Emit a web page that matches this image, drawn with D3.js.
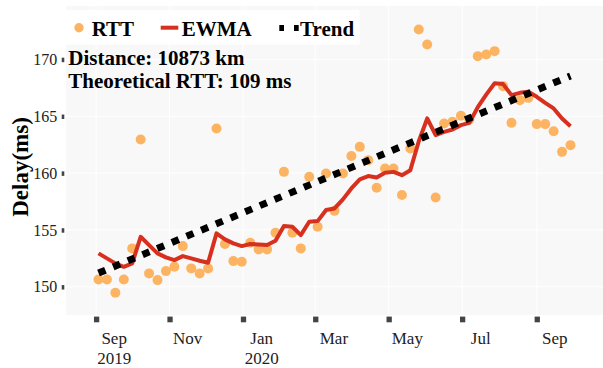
<!DOCTYPE html>
<html>
<head>
<meta charset="utf-8">
<script src="https://cdn.jsdelivr.net/npm/d3@7"></script>
<style>
  html, body { margin: 0; padding: 0; background: #fff; }
  svg { display: block; }
  text { font-family: "Liberation Serif", "Times New Roman", serif; }
</style>
</head>
<body>
<svg id="chart" width="603" height="368"></svg>
<script>
// ---- data ----
const dates = [
  "2019-09-03","2019-09-10","2019-09-17","2019-09-24","2019-10-01","2019-10-08","2019-10-15","2019-10-22","2019-10-29",
  "2019-11-05","2019-11-12","2019-11-19","2019-11-26","2019-12-03","2019-12-10","2019-12-17","2019-12-24","2019-12-31",
  "2020-01-07","2020-01-14","2020-01-21","2020-01-28","2020-02-04","2020-02-11","2020-02-18","2020-02-25",
  "2020-03-03","2020-03-10","2020-03-17","2020-03-24","2020-03-31","2020-04-07","2020-04-14","2020-04-21","2020-04-28",
  "2020-05-05","2020-05-12","2020-05-19","2020-05-26","2020-06-02","2020-06-09","2020-06-16","2020-06-23","2020-06-30",
  "2020-07-07","2020-07-14","2020-07-21","2020-07-28","2020-08-04","2020-08-11","2020-08-18","2020-08-25",
  "2020-09-01","2020-09-08","2020-09-15","2020-09-22","2020-09-29"
];
const rtt = [
  150.65,150.65,149.47,150.65,153.38,162.95,151.18,150.59,151.38,151.76,
  153.58,151.62,151.18,151.62,163.93,153.76,152.26,152.20,153.87,153.29,
  153.29,154.75,160.11,154.75,153.38,159.67,155.28,159.97,156.68,159.97,
  161.50,162.31,161.14,158.71,160.41,160.41,158.07,162.17,172.64,171.32,
  157.86,164.37,164.51,165.04,164.72,170.29,170.44,170.73,167.65,164.42,
  166.42,166.62,164.31,164.31,163.69,161.87,162.46
];
const ewma = [
  152.94,152.50,152.06,151.76,152.06,154.40,153.67,152.94,152.59,152.35,
  152.70,152.50,152.29,152.11,154.70,154.17,153.82,153.58,153.76,153.73,
  153.67,154.05,155.34,155.28,154.55,155.72,155.78,156.75,156.89,157.69,
  158.65,159.45,159.74,159.62,160.03,160.11,159.82,160.26,162.80,164.81,
  163.34,163.63,163.84,164.22,164.42,165.80,166.90,167.90,167.83,166.86,
  167.06,167.15,166.71,166.18,165.69,164.81,164.13
];
const trendDates = ["2019-09-03","2020-09-29"];
const trendValues = [151.21, 168.55];
const yTicks = [150, 155, 160, 165, 170];
const xTickDates = ["2019-09-01","2019-11-01","2020-01-01","2020-03-01","2020-05-01","2020-07-01","2020-09-01"];
const xTickMonths = ["Sep","Nov","Jan","Mar","May","Jul","Sep"];
const xTickYears = ["2019","","2020","","","",""];
const legendLabels = ["RTT","EWMA","Trend"];
const annotationLines = ["Distance: 10873 km","Theoretical RTT: 109 ms"];
const yTitle = "Delay(ms)";

// ---- setup ----
const parse = d3.utcParse("%Y-%m-%d");
const svg = d3.select("#chart");
const P = {left: 66, right: 603, top: 6, bottom: 315};

const x = d3.scaleUtc()
  .domain([parse("2019-08-07"), parse("2020-10-26")])
  .range([P.left, P.right]);
const y = d3.scaleLinear()
  .domain([147.52, 174.7])
  .range([P.bottom, P.top]);

const colDot = "#fdb462", colLine = "#d7301f";

// panel
svg.append("rect").attr("x", P.left).attr("y", P.top)
  .attr("width", P.right - P.left).attr("height", P.bottom - P.top)
  .attr("fill", "#f8f8f8");

// gridlines
const g = svg.append("g");
g.selectAll(".gx").data(xTickDates).join("line")
  .attr("x1", d => x(parse(d))).attr("x2", d => x(parse(d)))
  .attr("y1", P.top).attr("y2", P.bottom)
  .attr("stroke", "#fff").attr("stroke-width", 1);
g.selectAll(".gy").data(yTicks).join("line")
  .attr("x1", P.left).attr("x2", P.right)
  .attr("y1", d => y(d)).attr("y2", d => y(d))
  .attr("stroke", "#fff").attr("stroke-width", 1);

// y axis
const yAxis = svg.append("g").attr("transform", "translate(64.3,0)")
  .call(d3.axisLeft(y).tickValues(yTicks).tickSize(2.6).tickPadding(4.4).tickFormat(d3.format("d")));
yAxis.select(".domain").remove();
yAxis.selectAll(".tick line").attr("stroke", "#444").attr("stroke-width", 4.5);
yAxis.selectAll(".tick text").attr("font-size", 16).attr("fill", "#222")
  .attr("font-family", "'Liberation Serif', serif");

// x axis ticks
const xAxis = svg.append("g").attr("transform", "translate(0,316.6)")
  .call(d3.axisBottom(x).tickValues(xTickDates.map(parse)).tickSize(5.7).tickFormat(""));
xAxis.select(".domain").remove();
xAxis.selectAll(".tick line").attr("stroke", "#444").attr("stroke-width", 5.3);

// x labels (centered in month period)
const lab = svg.append("g").attr("font-size", 17).attr("fill", "#222").attr("text-anchor", "middle");
xTickDates.forEach((d, i) => {
  const t0 = parse(d);
  const t1 = d3.utcMonth.offset(t0, 1);
  const cx = (x(t0) + x(t1)) / 2;
  lab.append("text").attr("x", cx).attr("y", 343.5).text(xTickMonths[i]);
  if (xTickYears[i]) lab.append("text").attr("x", cx).attr("y", 364.3).text(xTickYears[i]);
});

// y title
svg.append("text")
  .attr("transform", "translate(28,167) rotate(-90)")
  .attr("text-anchor", "middle").attr("font-size", 23).attr("font-weight", "bold")
  .attr("fill", "#000").text(yTitle);

// RTT dots
svg.append("g").selectAll("circle").data(dates).join("circle")
  .attr("cx", d => x(parse(d))).attr("cy", (d, i) => y(rtt[i]))
  .attr("r", 5).attr("fill", colDot);

// EWMA
const line = d3.line().x(d => x(parse(d[0]))).y(d => y(d[1]));
svg.append("path").datum(dates.map((d, i) => [d, ewma[i]]))
  .attr("d", line).attr("fill", "none").attr("stroke", colLine)
  .attr("stroke-width", 4).attr("stroke-linejoin", "round");

// Trend
svg.append("path").datum(trendDates.map((d, i) => [d, trendValues[i]]))
  .attr("d", line).attr("fill", "none").attr("stroke", "#000")
  .attr("stroke-width", 7).attr("stroke-dasharray", "7.5,8.4");

// legend
const lg = svg.append("g");
lg.append("rect").attr("x", 65).attr("y", 10).attr("width", 294.5).attr("height", 34.5).attr("fill", "#fff");
lg.append("circle").attr("cx", 79).attr("cy", 27.7).attr("r", 4.7).attr("fill", colDot);
lg.append("line").attr("x1", 160.7).attr("x2", 178.3).attr("y1", 27.7).attr("y2", 27.7)
  .attr("stroke", colLine).attr("stroke-width", 4);
lg.append("line").attr("x1", 279.3).attr("x2", 299).attr("y1", 28).attr("y2", 28)
  .attr("stroke", "#000").attr("stroke-width", 6).attr("stroke-dasharray", "4.7,10");
const lx = [91.7, 181.7, 300];
lg.selectAll("text.l").data(legendLabels).join("text")
  .attr("x", (d, i) => lx[i]).attr("y", 35.7)
  .attr("font-size", 21).attr("font-weight", "bold").attr("fill", "#000").text(d => d);

// annotation
svg.append("g").selectAll("text").data(annotationLines).join("text")
  .attr("x", 68.3).attr("y", (d, i) => 65 + i * 23.3)
  .attr("font-size", 21).attr("font-weight", "bold").attr("fill", "#000").text(d => d);
</script>
</body>
</html>
